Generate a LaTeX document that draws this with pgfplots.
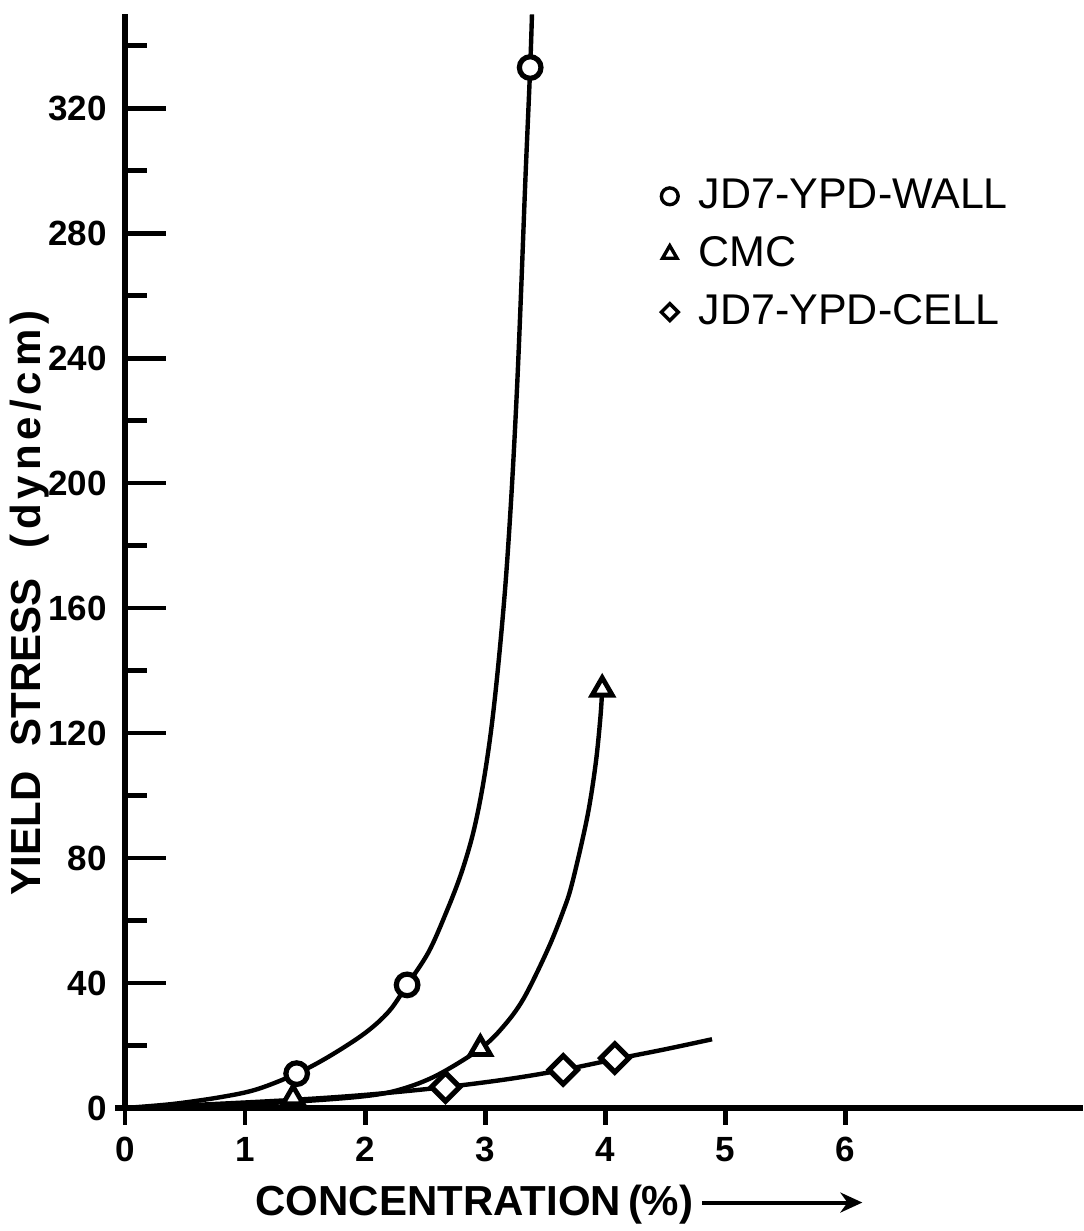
\documentclass[border=0pt]{standalone}
\usepackage{fontspec}
\setmainfont{Liberation Sans}
\usepackage{pgfplots}
\pgfplotsset{compat=1.18}
\usetikzlibrary{arrows.meta}
\pgfplotsset{
  mylegimg/.style={legend image code/.code={\path[draw=none] (0cm,0cm) -- (0.335cm,0cm); \path[##1, only marks, mark size=#1, line width=0.85pt] plot coordinates {(0.15cm,0cm)};}},
}
\begin{document}
\begin{tikzpicture}
\useasboundingbox (-31.25pt,-30.75pt) rectangle (239.5pt,277pt);
\begin{axis}[
  at={(0pt,0pt)}, anchor=south west,
  scale only axis, width=239.5pt, height=273.4pt,
  xmin=0, xmax=7.98, ymin=0, ymax=350,
  axis lines=left,
  axis line style={-, line width=1.4pt},
  tick align=inside,
  xtick={0,...,6},
  ytick={0,40,...,320},
  tick style={draw=none},
  unbounded coords=jump,
  /pgf/number format/assume math mode=true,
  tick label style={font=\fontsize{8.75}{10}\selectfont\bfseries},
  yticklabel style={xshift=-1pt},
  xticklabel style={yshift=-3.8pt},
  xlabel={CONCENTRATION\,(\%)\,\tikz[baseline=-0.6ex]\draw[line width=1pt,-{Stealth[length=5.5pt,width=5pt]}] (0,0)--(40pt,0);},
  ylabel={YIELD\hspace{0.6em}STRESS\hspace{0.7em}{\addfontfeature{LetterSpace=12}(dyne/cm)}},
  label style={font=\fontsize{10.5}{12}\selectfont\bfseries},
  xlabel style={at={(axis description cs:0.454,-0.0887)}, anchor=center},
  ylabel style={at={(axis description cs:-0.0992,0.462)}, anchor=center},
  legend style={draw=none, fill=none, at={(axis description cs:0.550,0.858)}, anchor=north west,
    font=\fontsize{10.75}{13}\selectfont, row sep=1.5pt, inner sep=0pt},
  legend cell align=left,
  clip=false,
]
% y ticks as short line segments from the axis: long at labelled values, short between
\addplot[line width=1.2pt, mark=none, forget plot] coordinates {
 (0,40) (0.34,40) (nan,nan) (0,80) (0.34,80) (nan,nan) (0,120) (0.34,120) (nan,nan)
 (0,160) (0.34,160) (nan,nan) (0,200) (0.34,200) (nan,nan) (0,240) (0.34,240) (nan,nan)
 (0,280) (0.34,280) (nan,nan) (0,320) (0.34,320)};
\addplot[line width=1.2pt, mark=none, forget plot] coordinates {
 (0,20) (0.183,20) (nan,nan) (0,60) (0.183,60) (nan,nan) (0,100) (0.183,100) (nan,nan)
 (0,140) (0.183,140) (nan,nan) (0,180) (0.183,180) (nan,nan) (0,220) (0.183,220) (nan,nan)
 (0,260) (0.183,260) (nan,nan) (0,300) (0.183,300) (nan,nan) (0,340) (0.183,340)};
% curves
\addplot[smooth, tension=0.55, line width=1.1pt, forget plot] coordinates {
 (0,0) (0.4,1.3) (0.8,3.5) (1.1,6) (1.43,11) (1.7,16.5) (2.0,24) (2.2,31) (2.35,39.4)
 (2.53,50) (2.68,63) (2.80,75) (2.90,88) (2.98,103) (3.05,121) (3.11,142) (3.17,168)
 (3.22,197) (3.265,230) (3.30,262) (3.335,297) (3.375,333) (3.39,350)};
\addplot[smooth, tension=0.55, line width=1.1pt, forget plot] coordinates {
 (0,0) (0.7,0.8) (1.4,2) (2.0,3.8) (2.3,6) (2.6,10.5) (2.96,19) (3.15,26) (3.32,35)
 (3.52,50.6) (3.65,63) (3.725,72) (3.85,93) (3.92,110) (3.96,125) (3.975,134)};
\addplot[smooth, tension=0.55, line width=1.1pt, forget plot] coordinates {
 (0,0) (0.7,1.2) (1.4,2.6) (2.0,4.2) (2.67,6.7) (3.2,9.3) (3.65,12.2) (4.08,15.6) (4.5,18.8) (4.89,22)};
% markers
\addplot[only marks, mark=*, mark size=2.7pt, line width=1.3pt, mark options={fill=white, draw=black}, mylegimg=2.1pt]
  coordinates {(1.43,11) (2.35,39.4) (3.375,333)};
\addlegendentry{JD7-YPD-WALL}
\addplot[only marks, mark=triangle*, mark size=2.9pt, line width=1.2pt, mark options={fill=white, draw=black}, mylegimg=2.1pt]
  coordinates {(1.40,3.2) (2.96,19) (3.975,134)};
\addlegendentry{CMC}
\addplot[only marks, mark=square*, mark size=2.5pt, line width=1.3pt, mark options={fill=white, draw=black, rotate=45}, mylegimg=1.5pt]
  coordinates {(2.67,6.7) (3.65,12.2) (4.08,16)};
\addlegendentry{JD7-YPD-CELL}
% x ticks pointing down
\pgfplotsinvokeforeach{0,...,6}{\draw[line width=1.2pt] (axis cs:#1,0) -- ++(0pt,-4.2pt);}
\draw[line width=1.4pt] (axis cs:0,0) -- ++(-2.5pt,0pt);
\end{axis}
\end{tikzpicture}
\end{document}
